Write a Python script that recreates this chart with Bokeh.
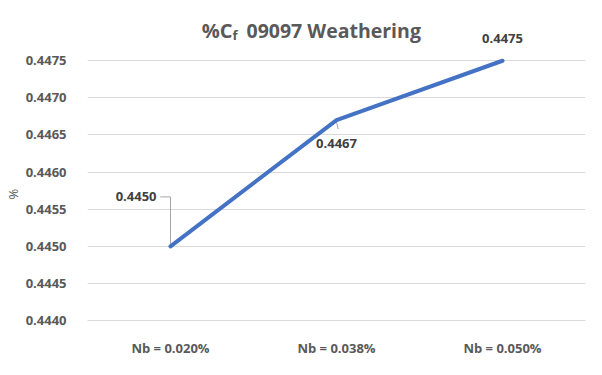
from bokeh.plotting import figure
from bokeh.models import (FactorRange, Range1d, FixedTicker, NumeralTickFormatter,
                          Label, ColumnDataSource, Title)
from bokeh.transform import dodge
from bokeh.core.properties import value
from bokeh.embed import file_html
from bokeh.resources import INLINE

# ---- data ----
categories = ["Nb = 0.020%", "Nb = 0.038%", "Nb = 0.050%"]
cf_values = [0.4450, 0.4467, 0.4475]
y_ticks = [0.4440, 0.4445, 0.4450, 0.4455, 0.4460, 0.4465, 0.4470, 0.4475]
title_parts = ["%C", "f", "09097 Weathering"]
y_label = "%"

FONT = "Open Sans"
AXIS_GRAY = "#595959"
LABEL_DARK = "#404040"
GRID = "#D9D9D9"
LINE_BLUE = "#4472C4"

W, H = 586, 359
B_LEFT, B_RIGHT, B_BOTTOM = 77, 1, 35
TOP_GAP = 61  # pixels between canvas top and the highest gridline

y0, y1 = y_ticks[0], y_ticks[-1]
frame_h = H - B_BOTTOM
px_per_unit = (frame_h - TOP_GAP) / (y1 - y0)
y_end = y0 + frame_h / px_per_unit
px = 1.0 / px_per_unit  # data units per pixel

p = figure(width=W, height=H, x_range=FactorRange(*categories),
           y_range=Range1d(y0, y_end), output_backend="svg", toolbar_location=None,
           min_border_left=B_LEFT, min_border_right=B_RIGHT, min_border_top=0,
           min_border_bottom=B_BOTTOM)
p.outline_line_color = None
p.background_fill_color = "white"
p.border_fill_color = "white"

# axes
p.yaxis.ticker = FixedTicker(ticks=y_ticks)
p.yaxis.formatter = NumeralTickFormatter(format="0.0000")
p.yaxis.axis_line_color = None
p.yaxis.major_tick_line_color = None
p.yaxis.minor_tick_line_color = None
p.yaxis.major_label_standoff = 15
p.yaxis.major_label_text_font = FONT
p.yaxis.major_label_text_font_style = "bold"
p.yaxis.major_label_text_font_size = "13px"
p.yaxis.major_label_text_color = AXIS_GRAY

# y-axis title, placed level with the middle of the gridded area
p.add_layout(Title(text=y_label, align="left", offset=121, standoff=2,
                   text_font=FONT, text_font_style="normal",
                   text_font_size="13px", text_color=AXIS_GRAY), "left")

p.xaxis.axis_line_color = GRID
p.xaxis.major_tick_line_color = None
p.xaxis.minor_tick_line_color = None
p.xaxis.major_label_standoff = 12
p.xaxis.major_label_text_font = FONT
p.xaxis.major_label_text_font_style = "bold"
p.xaxis.major_label_text_font_size = "13px"
p.xaxis.major_label_text_color = AXIS_GRAY

p.xgrid.grid_line_color = None
p.ygrid.grid_line_color = GRID
p.ygrid.grid_line_width = 1

# leader lines (drawn under the series line)
lead = ColumnDataSource(dict(x=[categories[0]], y=[cf_values[0]],
                             yl=[cf_values[0] + 50 * px]))
p.segment(x0=dodge("x", -0.062, range=p.x_range), y0="yl", x1="x", y1="yl",
          source=lead, line_color="#A6A6A6", line_width=1)
p.segment(x0="x", y0="yl", x1="x", y1="y", source=lead,
          line_color="#A6A6A6", line_width=1)
lead2 = ColumnDataSource(dict(x=[categories[1]], y=[cf_values[1] - 2 * px],
                              yl=[cf_values[1] - 9 * px]))
p.segment(x0="x", y0="y", x1=dodge("x", 0.01, range=p.x_range), y1="yl",
          source=lead2, line_color="#A6A6A6", line_width=1)

# series
p.line(x=categories, y=cf_values, line_color=LINE_BLUE, line_width=4,
       line_cap="round", line_join="round")

# data labels
label_specs = [(-14, 50, "right"), (0, -23, "center"), (0, 22, "center")]
for cat, v, (dx, dy, al) in zip(categories, cf_values, label_specs):
    p.text(x=[cat], y=[v], text=[f"{v:.4f}"], x_offset=dx, y_offset=-dy,
           text_align=al, text_baseline="middle", text_font=value(FONT),
           text_font_style="bold", text_font_size="13px", text_color=LABEL_DARK)

# title with subscript (screen units relative to the plot frame, y upwards)
common = dict(x_units="screen", y_units="screen", text_baseline="alphabetic",
              text_font=FONT, text_font_style="bold", text_color=AXIS_GRAY)
p.add_layout(Label(x=145, y=290, text=title_parts[0], text_align="right",
                   text_font_size="20px", **common))
p.add_layout(Label(x=145, y=286, text=title_parts[1], text_align="left",
                   text_font_size="13px", **common))
p.add_layout(Label(x=159, y=290, text=title_parts[2], text_align="left",
                   text_font_size="19.5px", **common))

open("out.html", "w").write(file_html(p, INLINE))
